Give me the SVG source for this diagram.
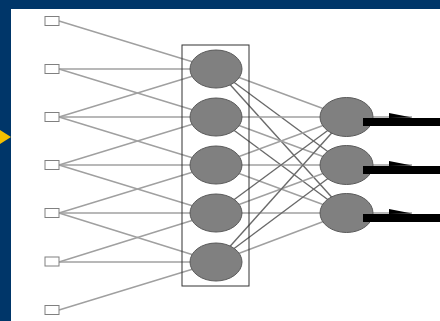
<svg xmlns="http://www.w3.org/2000/svg" width="440" height="321" viewBox="0 0 440 321">
<style>
.in{fill:#fff;stroke:#808080;stroke-width:1}
.n{fill:#808080;stroke:#5a5a5a;stroke-width:1}
.l{stroke:#a0a0a0;stroke-width:1.5;fill:none}
.d{stroke:#6a6a6a;stroke-width:1.4;fill:none}
.bar{fill:#000}
</style>
<rect x="0" y="0" width="440" height="321" fill="#003669"/>
<rect x="11" y="9" width="429" height="312" fill="#fff"/>
<polygon points="0,130 11,137 0,144" fill="#f5c000"/>
<g id="connectors">
<line class="l" x1="59" y1="21" x2="216" y2="69"/>
<line class="l" x1="59" y1="69" x2="216" y2="69"/>
<line class="l" x1="59" y1="69" x2="216" y2="117"/>
<line class="l" x1="59" y1="117" x2="216" y2="69"/>
<line class="l" x1="59" y1="117" x2="216" y2="117"/>
<line class="l" x1="59" y1="117" x2="216" y2="165"/>
<line class="l" x1="59" y1="165" x2="216" y2="117"/>
<line class="l" x1="59" y1="165" x2="216" y2="165"/>
<line class="l" x1="59" y1="165" x2="216" y2="213"/>
<line class="l" x1="59" y1="213" x2="216" y2="165"/>
<line class="l" x1="59" y1="213" x2="216" y2="213"/>
<line class="l" x1="59" y1="213" x2="216" y2="262"/>
<line class="l" x1="59" y1="262" x2="216" y2="213"/>
<line class="l" x1="59" y1="262" x2="216" y2="262"/>
<line class="l" x1="59" y1="310" x2="216" y2="262"/>
<line class="l" x1="216" y1="69" x2="346" y2="117"/>
<line class="d" x1="216" y1="69" x2="346" y2="165"/>
<line class="d" x1="216" y1="69" x2="346" y2="213"/>
<line class="l" x1="216" y1="117" x2="346" y2="117"/>
<line class="l" x1="216" y1="117" x2="346" y2="165"/>
<line class="d" x1="216" y1="117" x2="346" y2="213"/>
<line class="l" x1="216" y1="165" x2="346" y2="117"/>
<line class="l" x1="216" y1="165" x2="346" y2="165"/>
<line class="l" x1="216" y1="165" x2="346" y2="213"/>
<line class="d" x1="216" y1="213" x2="346" y2="117"/>
<line class="l" x1="216" y1="213" x2="346" y2="165"/>
<line class="l" x1="216" y1="213" x2="346" y2="213"/>
<line class="d" x1="216" y1="262" x2="346" y2="117"/>
<line class="d" x1="216" y1="262" x2="346" y2="165"/>
<line class="l" x1="216" y1="262" x2="346" y2="213"/>
<line class="l" x1="372" y1="117" x2="412" y2="117"/>
<line class="l" x1="372" y1="165" x2="412" y2="165"/>
<line class="l" x1="372" y1="213" x2="412" y2="213"/>
</g>
<rect id="hidden-box" x="182" y="45" width="67" height="241" fill="none" stroke="#333" stroke-width="1"/>
<g id="in1"><rect class="in" x="45" y="16.5" width="14" height="9"/></g>
<g id="in2"><rect class="in" x="45" y="64.5" width="14" height="9"/></g>
<g id="in3"><rect class="in" x="45" y="112.5" width="14" height="9"/></g>
<g id="in4"><rect class="in" x="45" y="160.5" width="14" height="9"/></g>
<g id="in5"><rect class="in" x="45" y="208.5" width="14" height="9"/></g>
<g id="in6"><rect class="in" x="45" y="257" width="14" height="9"/></g>
<g id="in7"><rect class="in" x="45" y="305.5" width="14" height="9"/></g>
<g id="h1"><ellipse class="n" cx="216" cy="69" rx="26" ry="19"/></g>
<g id="h2"><ellipse class="n" cx="216" cy="117" rx="26" ry="19"/></g>
<g id="h3"><ellipse class="n" cx="216" cy="165" rx="26" ry="19"/></g>
<g id="h4"><ellipse class="n" cx="216" cy="213" rx="26" ry="19"/></g>
<g id="h5"><ellipse class="n" cx="216" cy="262" rx="26" ry="19"/></g>
<g id="o1"><ellipse class="n" cx="346.5" cy="117" rx="26.5" ry="19.5"/></g>
<g id="o2"><ellipse class="n" cx="346.5" cy="165" rx="26.5" ry="19.5"/></g>
<g id="o3"><ellipse class="n" cx="346.5" cy="213" rx="26.5" ry="19.5"/></g>
<g id="outputs">
<polygon points="389,113 412,117.5 389,118" fill="#000"/>
<polygon points="389,161 412,165.5 389,166" fill="#000"/>
<polygon points="389,209 412,213.5 389,214" fill="#000"/>
<rect class="bar" x="363" y="118" width="77" height="8"/>
<rect class="bar" x="363" y="166" width="77" height="8"/>
<rect class="bar" x="363" y="214" width="77" height="8"/>
</g>
</svg>
